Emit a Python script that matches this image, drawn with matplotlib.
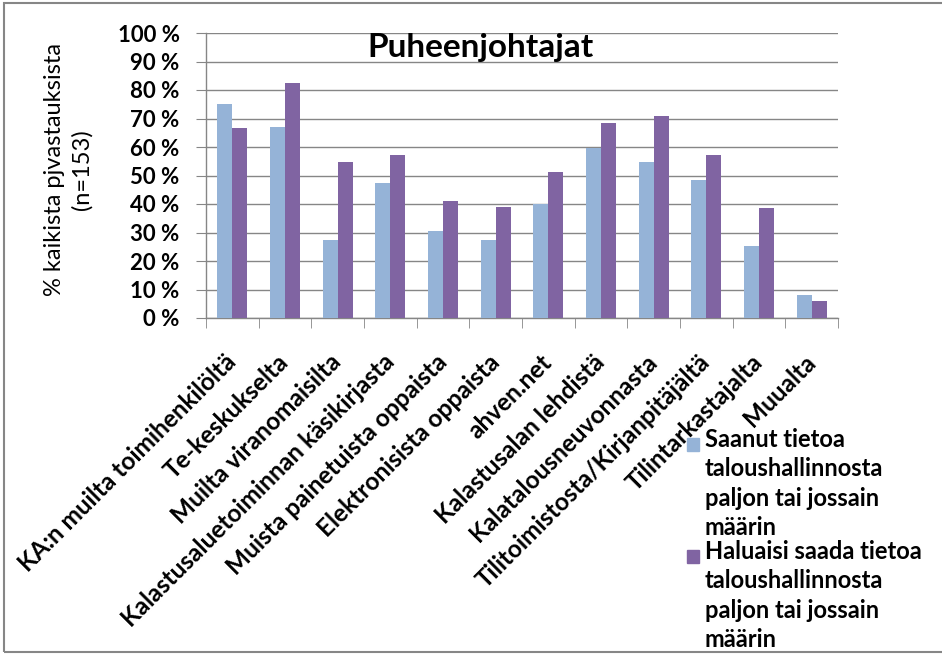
import matplotlib
matplotlib.use('Agg')
import numpy as np
import matplotlib.pyplot as plt
from matplotlib.patches import Rectangle
from matplotlib.ticker import FixedLocator

plt.rcParams['font.family'] = ['Lato', 'DejaVu Sans']

categories = ['KA:n muilta toimihenkilöltä', 'Te-keskukselta',
              'Muilta viranomaisilta', 'Kalastusaluetoiminnan käsikirjasta',
              'Muista painetuista oppaista', 'Elektronisista oppaista',
              'ahven.net', 'Kalastusalan lehdistä', 'Kalatalousneuvonnasta',
              'Tilitoimistosta/Kirjanpitäjältä', 'Tilintarkastajalta',
              'Muualta']
saanut = [75.2, 67.0, 27.3, 47.4, 30.4, 27.3, 40.0, 59.6, 54.7, 48.3, 25.2, 8.2]
haluaisi = [66.6, 82.5, 54.7, 57.3, 41.0, 38.8, 51.3, 68.4, 70.9, 57.3, 38.5, 6.1]
series_labels = ['Saanut tietoa\ntaloushallinnosta\npaljon tai jossain\nmäärin',
                 'Haluaisi saada tietoa\ntaloushallinnosta\npaljon tai jossain\nmäärin']
colors = ['#95B3D7', '#8064A2']
yticks = list(range(0, 101, 10))

W, H = 942, 655
fig = plt.figure(figsize=(W / 100, H / 100), dpi=100)
ax = fig.add_axes([206 / W, 1 - 318 / H, (838 - 206) / W, (318 - 33) / H])

x = np.arange(len(categories))
bw = 0.285
ax.bar(x - bw / 2, saanut, bw, color=colors[0], zorder=3)
ax.bar(x + bw / 2, haluaisi, bw, color=colors[1], zorder=3)

ax.set_xlim(-0.5, len(categories) - 0.5)
ax.set_ylim(0, 100)
ax.set_yticks(yticks)
ax.set_yticklabels(['%d %%' % v for v in yticks], fontsize=16, fontweight='bold')
ax.set_xticks(x)
ax.set_xticklabels(categories, rotation=45, ha='right', va='center',
                   rotation_mode='anchor', fontsize=17.6, fontweight='bold')
ax.xaxis.set_minor_locator(FixedLocator(np.arange(-0.5, len(categories), 1.0)))
ax.tick_params(axis='x', which='major', length=0, pad=29)
ax.tick_params(axis='x', which='minor', length=7, color='#868686', direction='out')
ax.tick_params(axis='y', length=7, color='#868686', direction='out', pad=12)

ax.grid(axis='y', color='#868686', linewidth=1.0, zorder=0)
for s in ['top', 'right']:
    ax.spines[s].set_visible(False)
for s in ['left', 'bottom']:
    ax.spines[s].set_color('#868686')
    ax.spines[s].set_linewidth(1.0)

ax.set_ylabel('% kaikista pjvastauksista\n(n=153)', fontsize=17, linespacing=1.3)
ax.yaxis.set_label_coords(-0.18, 0.52)

fig.text(481 / W, 1 - 47 / H, 'Puheenjohtajat', fontsize=24, fontweight='bold',
         ha='center', va='center')

# legend drawn by hand so the markers sit on the first text line
for i, (lab, col) in enumerate(zip(series_labels, colors)):
    ytop = 1 - (430 + i * 112) / H
    fig.patches.append(Rectangle((687 / W, ytop - 21 / H), 12 / W, 13 / H,
                                 transform=fig.transFigure, color=col))
    fig.text(705 / W, ytop + 2 / H, lab, fontsize=17, fontweight='bold',
             ha='left', va='top', linespacing=1.33)

# chart area border
fig.patches.append(Rectangle((4 / W, 3 / H), (W - 2) / W, (H - 6) / H,
                             transform=fig.transFigure, fill=False,
                             edgecolor='#868686', linewidth=1.5))

fig.savefig('out.png', dpi=100)
